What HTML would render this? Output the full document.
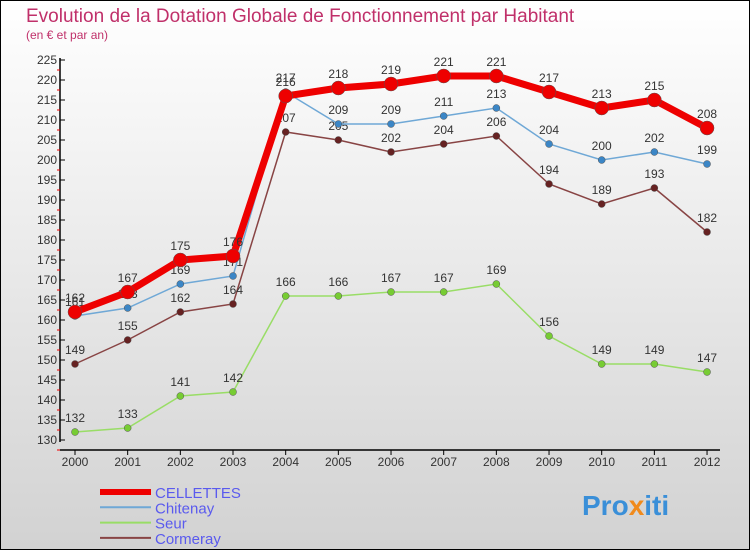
<!DOCTYPE html>
<html><head><meta charset="utf-8"><style>
body{margin:0;width:750px;height:550px;overflow:hidden;font-family:"Liberation Sans",sans-serif}
svg{display:block}
text{font-family:"Liberation Sans",sans-serif}
</style></head><body>
<svg id="chart" width="750" height="550">
<defs><linearGradient id="bg" x1="0" y1="0" x2="0" y2="1"><stop offset="0" stop-color="#ffffff"/><stop offset="1" stop-color="#d2d2d2"/></linearGradient></defs>
<rect x="0.5" y="0.5" width="749" height="549" fill="url(#bg)" stroke="#000"/>
<text x="26" y="22" font-size="19" fill="#c0306a">Evolution de la Dotation Globale de Fonctionnement par Habitant</text>
<text x="26" y="39" font-size="12" fill="#c0306a">(en € et par an)</text>
<g id="axes"></g><g id="series"></g><g id="legend"></g>
<text x="582" y="515" font-size="28" font-weight="bold" fill="#3a8fd8">Pro<tspan fill="#f08a1c">x</tspan>iti</text>
</svg>
<script>
const years=[2000,2001,2002,2003,2004,2005,2006,2007,2008,2009,2010,2011,2012];
const cellettes=[162,167,175,176,216,218,219,221,221,217,213,215,208];
const chitenay=[161,163,169,171,217,209,209,211,213,204,200,202,199];
const seur=[132,133,141,142,166,166,167,167,169,156,149,149,147];
const cormeray=[149,155,162,164,207,205,202,204,206,194,189,193,182];
const yTicks=[130,135,140,145,150,155,160,165,170,175,180,185,190,195,200,205,210,215,220,225];
const NS="http://www.w3.org/2000/svg";
const X=i=>75+i*52.67, Y=v=>440-(v-130)*4;
function mk(t,a,p){const e=document.createElementNS(NS,t);for(const k in a)e.setAttribute(k,a[k]);p.appendChild(e);return e;}
const ax=document.getElementById('axes');
const ya=mk('line',{x1:60,y1:58,x2:60,y2:442,stroke:'#000','stroke-width':1.5},ax);


const xa=mk('line',{x1:60,y1:450,x2:720,y2:450,stroke:'#000','stroke-width':1.5},ax);


yTicks.forEach(v=>{
 mk('line',{x1:60,y1:Y(v),x2:65,y2:Y(v),stroke:'#000'},ax);
 mk('line',{x1:57,y1:Y(v)+10,x2:60,y2:Y(v)+10,stroke:'#e00'},ax);
 const t=mk('text',{x:57,y:Y(v)+4,'font-size':12,fill:'#333','text-anchor':'end'},ax);t.textContent=v;
 
 
});
years.forEach((y,i)=>{
 mk('line',{x1:X(i),y1:450,x2:X(i),y2:455,stroke:'#000'},ax);
 const t=mk('text',{x:X(i),y:466,'font-size':12,fill:'#333','text-anchor':'middle'},ax);t.textContent=y;
 
 
});
const sg=document.getElementById('series');
const defs=[[seur,'#99dd66','#77cc33',1.5,3.5,'seur'],[cormeray,'#884444','#662222',1.5,3.5,'cormeray'],[chitenay,'#6fa8d6','#3b86c6',1.5,3.5,'chitenay'],[cellettes,'#ee0000','#ee0000',7,7,'cellettes']];
defs.forEach(([d,c,dc,w,r,n])=>{
 const g=mk('g',{},sg);
 
 
 const l=mk('polyline',{points:d.map((v,i)=>X(i)+','+Y(v)).join(' '),fill:'none',stroke:c,'stroke-width':w},g);
 
 
 d.forEach((v,i)=>{
  const p=mk('circle',{cx:X(i),cy:Y(v),r:r,fill:dc,stroke:'#555','stroke-width':0.5},g);
  
  
  const t=mk('text',{x:X(i),y:Y(v)-10,'font-size':12,fill:'#333','text-anchor':'middle'},g);t.textContent=v;
  
  
 });
});
const lg=document.getElementById('legend');
[['CELLETTES','#ee0000',6],['Chitenay','#6fa8d6',2],['Seur','#99dd66',2],['Cormeray','#884444',2]].forEach(([n,c,w],i)=>{
 const y=492+i*15.3;
 const e=mk('g',{},lg);
 
 
 mk('line',{x1:100,y1:y,x2:151,y2:y,stroke:c,'stroke-width':w},e);
 const t=mk('text',{x:155,y:y+6,'font-size':15,fill:'#5a5aee'},e);t.textContent=n;
});
</script>
</body></html>
